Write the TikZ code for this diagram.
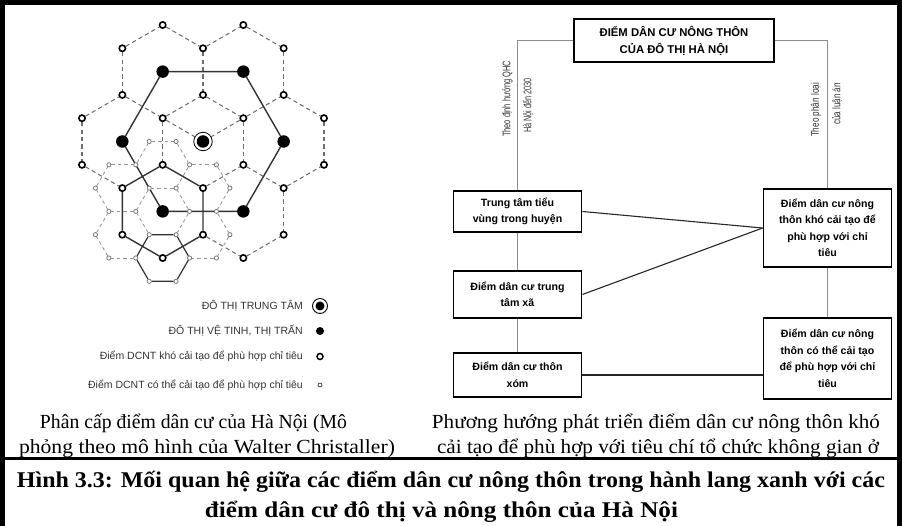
\documentclass[tikz,border=0pt]{standalone}
\usepackage{fontspec}
\usepackage{graphicx}
\setmainfont{Liberation Serif}
\newfontfamily\arialf{Liberation Sans}
\usetikzlibrary{calc}
\pgfdeclarelayer{bg}
\pgfsetlayers{bg,main}
\definecolor{cdashc}{HTML}{6E6E6E}
\definecolor{fdashc}{HTML}{959595}
\definecolor{finec}{HTML}{7A7A7A}
\definecolor{legc}{HTML}{333333}
\definecolor{connc}{HTML}{8C8C8C}
\newcommand{\fitto}[2]{\resizebox{#1}{\height}{#2}}
\begin{document}
\begin{tikzpicture}[x=1pt,y=-1pt,
  opn/.style={circle,draw=black,line width=1.6pt,fill=white,minimum size=6.3pt,inner sep=0pt},
  fin/.style={circle,draw=finec,line width=0.8pt,fill=white,minimum size=4.2pt,inner sep=0pt},
  sat/.style={circle,fill=black,minimum size=12.5pt,inner sep=0pt},
  cdash/.style={draw=cdashc,line width=1.05pt,dash pattern=on 4.2pt off 3.2pt},
  fdash/.style={draw=fdashc,line width=0.85pt,dash pattern=on 3.5pt off 3pt},
  hexln/.style={draw=black!80,line width=1.4pt,line join=round},
  legtxt/.style={anchor=east,font=\arialf\fontsize{10.5}{12}\selectfont,text=legc,inner sep=0pt},
  bx/.style={draw=black,line width=1.8pt,align=center,inner sep=0pt,font=\arialf\bfseries\fontsize{10.6}{16.5}\selectfont},
  conn/.style={draw=connc,line width=0.9pt},
  linkln/.style={draw=black!85,line width=1.1pt},
  rottxt/.style={rotate=90,font=\arialf\fontsize{11}{12}\selectfont,text=legc,inner sep=0pt},
  captxt/.style={font=\fontsize{20}{24}\selectfont,inner sep=0pt,anchor=base},
  bcaptxt/.style={font=\bfseries\fontsize{22.5}{26}\selectfont,inner sep=0pt,anchor=base}
]
\useasboundingbox (0,0) rectangle (902,526);

% ---------- Christaller lattice ----------
\foreach \C/\R in {2/0,4/0,1/1,3/1,5/1,1/3,3/3,5/3,0/4,2/4,4/4,6/4,0/6,2/6,4/6,6/6,1/7,3/7,5/7,1/9,3/9,5/9,2/10,4/10}
  \node[opn] (c\C y\R) at ({203+40.33*(\C-3)},{141.5+23.3*(\R-5)}) {};
\foreach \C/\R in {2/2,4/2,5/5,4/8,2/8,1/5}
  \node[sat] (c\C y\R) at ({203+40.33*(\C-3)},{141.5+23.3*(\R-5)}) {};
\node[circle,draw=black,line width=0.8pt,fill=white,minimum size=18.5pt,inner sep=0pt] (c3y5) at (203,141.5) {};
\node[circle,fill=black,minimum size=12.5pt,inner sep=0pt] (core) at (203,141.5) {};
\foreach \K/\r in {7/1,6/2,4/2,3/1,4/0,6/0,3/3,1/3,0/2,1/1,10/2,9/3,7/3,9/1,6/4,4/4,3/5,1/5,0/4,10/4,9/5,7/5,6/6,4/6}
  \node[fin] (f\K y\r) at ({203+13.444*(\K-8)},{141.5+23.3*\r}) {};

\begin{pgfonlayer}{bg}
\foreach \a/\b/\c/\d in {1/1/1/3,3/1/3/3,5/1/5/3,5/7/5/9,0/4/0/6,2/4/2/6,4/4/4/6,6/4/6/6,
  2/0/3/1,4/0/5/1,1/3/2/4,3/3/4/4,5/3/6/4,0/6/1/7,4/6/5/7,3/9/4/10,
  1/1/2/0,3/1/4/0,0/4/1/3,2/4/3/3,4/4/5/3,3/7/4/6,5/7/6/6,4/10/5/9,
  2/4/3/5,4/4/3/5}
  \draw[cdash] (c\a y\b) -- (c\c y\d);
\foreach \a/\b/\c/\d in {7/1/6/2,6/2/4/2,4/2/3/1,3/1/4/0,4/0/6/0,6/0/7/1,
  4/2/3/3,3/3/1/3,1/3/0/2,0/2/1/1,1/1/3/1,
  10/2/9/3,9/3/7/3,7/3/6/2,7/1/9/1,9/1/10/2,
  7/3/6/4,4/4/3/3,
  3/5/1/5,1/5/0/4,0/4/1/3,
  10/4/9/5,9/5/7/5,9/3/10/4}
  \draw[fdash] (f\a y\b) -- (f\c y\d);
\draw[hexln] (c2y2) -- (c4y2) -- (c5y5) -- (c4y8) -- (c2y8) -- (c1y5) -- (c2y2);
\draw[hexln] (c2y6) -- (c3y7) -- (c3y9) -- (c2y10) -- (c1y9) -- (c1y7) -- (c2y6);
\draw[hexln,line width=1.2pt] (f7y5) -- (f6y6) -- (f4y6) -- (f3y5) -- (f4y4) -- (f6y4) -- (f7y5);
\end{pgfonlayer}

% ---------- legend ----------
\node[legtxt] (lt1) at (303,306) {ĐÔ THỊ TRUNG TÂM};
\node[legtxt] (lt2) at (303,331) {ĐÔ THỊ VỆ TINH, THỊ TRẤN};
\node[legtxt] (lt3) at (303,356.5) {Điểm DCNT khó cải tạo để phù hợp chỉ tiêu};
\node[legtxt] (lt4) at (303,385) {Điểm DCNT có thể cải tạo để phù hợp chỉ tiêu};
\node[circle,draw=black,line width=0.9pt,minimum size=15pt,inner sep=0pt] (ls1) at (320,306) {};
\node[circle,fill=black,minimum size=9pt,inner sep=0pt] (ls1c) at (320,306) {};
\node[circle,fill=black,minimum size=8pt,inner sep=0pt] (ls2) at (320,331) {};
\node[circle,draw=black,line width=1.5pt,minimum size=6pt,inner sep=0pt] (ls3) at (320,356.5) {};
\node[circle,draw=black!75,line width=0.8pt,minimum size=4pt,inner sep=0pt] (ls4) at (320,385) {};

% ---------- right scheme ----------
\node[bx,minimum width=200pt,minimum height=43pt,font=\arialf\bfseries\fontsize{11.3}{17}\selectfont] (top) at (674,40.5) {ĐIỂM DÂN CƯ NÔNG THÔN\\CỦA ĐÔ THỊ HÀ NỘI};
\node[bx,minimum width=128pt,minimum height=41pt] (b1) at (517.5,211.5) {Trung tâm tiểu\\vùng trong huyện};
\node[bx,minimum width=128pt,minimum height=47pt] (b2) at (517.5,294.5) {Điểm dân cư trung\\tâm xã};
\node[bx,minimum width=128pt,minimum height=44pt] (b3) at (517.5,375) {Điểm dân cư thôn\\xóm};
\node[bx,minimum width=128pt,minimum height=78pt] (r1) at (827.5,228) {Điểm dân cư nông\\thôn khó cải tạo để\\phù hợp với chỉ\\tiêu};
\node[bx,minimum width=128pt,minimum height=81pt] (r2) at (827.5,358.5) {Điểm dân cư nông\\thôn có thể cải tạo\\để phù hợp với chỉ\\tiêu};

\begin{pgfonlayer}{bg}
\draw[conn] (top.west) -| (b1.north);
\draw[conn] (top.east) -| (r1.north);
\draw[conn] (b1) -- (b2);
\draw[conn] (b2) -- (b3);
\draw[conn] (r1) -- (r2);
\end{pgfonlayer}
\draw[linkln] (b1.east) -- (r1.west);
\draw[linkln] (b2.east) -- (r1.west);
\draw[linkln] (b3.east) -- (b3.east -| r2.west);

\node[rottxt] (t1) at (507.5,99) {\fitto{76pt}{Theo định hướng QHC}};
\node[rottxt] (t2) at (528,105.5) {\fitto{55pt}{Hà Nội đến 2030}};
\node[rottxt] (t3) at (816,110) {\fitto{54pt}{Theo phân loại}};
\node[rottxt] (t4) at (837,104) {\fitto{42pt}{của luận án}};

% ---------- captions ----------
\node[captxt] (cl1) at (193.5,428) {\fitto{307pt}{Phân cấp điểm dân cư của Hà Nội (Mô}};
\node[captxt] (cl2) at (207,453.3) {\fitto{376pt}{phỏng theo mô hình của Walter Christaller)}};
\node[captxt] (cr1) at (656,428) {\fitto{448pt}{Phương hướng phát triển điểm dân cư nông thôn khó}};
\node[captxt] (cr2) at (658,453.3) {\fitto{442pt}{cải tạo để phù hợp với tiêu chí tổ chức không gian ở}};
\node[bcaptxt] (bc1) at (451,487) {\fitto{868pt}{Hình 3.3: Mối quan hệ giữa các điểm dân cư nông thôn trong hành lang xanh với các}};
\node[bcaptxt] (bc2) at (441.5,517) {\fitto{473pt}{điểm dân cư đô thị và nông thôn của Hà Nội}};

% ---------- frame ----------
\draw[line width=5pt] (2.5,526) -- (2.5,2.5) -- (899.5,2.5) -- (899.5,526);
\draw[line width=3pt] (0,458.5) -- (902,458.5);
\end{tikzpicture}
\end{document}
